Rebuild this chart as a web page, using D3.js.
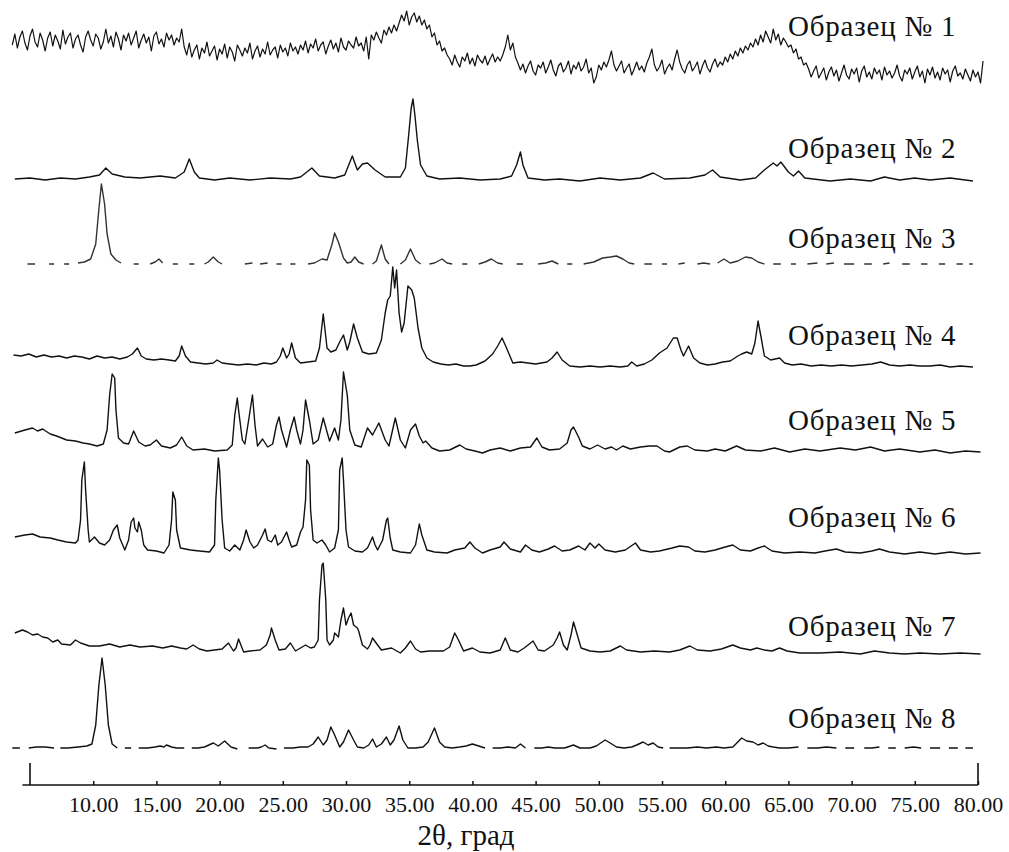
<!DOCTYPE html>
<html>
<head>
<meta charset="utf-8">
<script src="https://cdn.jsdelivr.net/npm/d3@7"></script>
<style>
  body { margin: 0; background: #fff; }
</style>
</head>
<body>
<script>
// sample names, top to bottom
let sampleNames = ["Образец № 1", "Образец № 2", "Образец № 3", "Образец № 4",
                   "Образец № 5", "Образец № 6", "Образец № 7", "Образец № 8"];

let tickValues = [10, 15, 20, 25, 30, 35, 40, 45, 50, 55, 60, 65, 70, 75, 80];
let axisTitle = "2θ, град";

// sample 1 is amorphous: intensity read every 0.2 deg starting at 3.6 deg
let sample1Start = 3.6;
let sample1Step = 0.2;
let sample1 = [
  50,61,47,58,64,52,45,59,66,53,48,62,55,44,57,63,49,60,54,46,65,51,58,62,47,56,60,50,43,58,64,55,49,61,
  57,46,53,66,52,59,48,63,56,45,60,54,62,50,57,64,47,55,61,52,58,44,59,63,51,56,48,62,55,60,50,57,53,
  66,48,40,52,38,45,50,36,47,42,53,39,44,49,35,46,41,51,37,48,43,34,50,45,39,47,42,52,36,44,49,38,46,41,
  53,40,45,48,37,50,43,47,39,52,44,48,41,50,
  45,54,42,51,47,56,44,50,53,41,49,55,46,52,43,57,48,45,54,50,47,58,49,
  52,44,58,36,60,55,63,57,52,65,60,68,62,70,64,
  72,80,74,84,70,78,82,73,79,70,
  75,66,70,58,62,50,54,44,47,40,
  36,30,40,33,28,38,34,42,31,37,29,40,35,32,39,30,36,41,33,38,34,
  40,48,60,45,52,38,32,
  25,31,22,29,34,24,20,30,27,33,22,28,35,25,19,29,32,23,27,34,21,30,26,33,24,28,36,22,27,12,
  18,30,25,33,28,35,44,30,24,29,34,22,27,31,20,26,33,25,29,23,32,38,46,30,24,28,35,21,27,31,
  25,36,45,33,26,22,30,34,24,28,33,21,29,35,27,23,31,36,28,33,
  30,38,33,41,36,44,39,47,42,49,45,52,48,
  56,50,60,53,64,58,52,66,55,61,50,57,53,48,
  50,42,46,36,38,30,32,
  26,18,24,29,17,22,27,15,23,28,19,25,14,22,30,20,16,26,21,27,13,24,29,18,23,16,27,21,25,15,
  28,20,24,17,22,30,19,14,25,21,27,16,23,29,18,24,12,26,20,28,17,23,15,27,21,25,13,24,29,19,
  22,16,26,20,14,25,18,23,12,34
];

// samples 2-8: [2theta, intensity], null = gap in the trace
let sample2 = [
  [3.8,2],[5.0,3],[6.2,1],[7.4,3],[8.6,2],[9.7,4],[10.5,6],[11.0,13],[11.5,7],[12.5,4],[13.7,3],[15.3,5],
  [16.5,3],[17.2,9],[17.6,22],[18.0,9],[18.4,3],[19.6,1],[20.8,3],[22.4,1],[24.0,3],[25.6,2],[26.4,4],
  [27.3,13],[27.9,5],[29.1,3],[29.9,6],[30.5,25],[30.9,11],[31.3,17],[31.7,18],[32.3,11],[33.1,4],[34.3,4],
  [34.7,13],[34.95,45],[35.15,72],[35.3,82],[35.45,66],[35.65,40],[35.9,16],[36.4,5],[37.4,2],[39.0,3],[40.6,1],[42.2,2],
  [43.1,5],[43.5,16],[43.8,29],[44.0,16],[44.4,3],[45.7,1],[46.9,2],[48.5,0],[50.1,3],[51.7,1],[53.3,3],
  [54.3,8],[55.2,2],[57.2,3],[58.4,6],[59.0,11],[59.6,4],[61.2,1],[62.4,3],[63.1,11],[63.8,18],[64.1,15],
  [64.4,19],[65.0,9],[65.4,5],[65.8,10],[66.3,3],[68.3,0],[69.9,2],[71.5,0],[72.6,4],[73.8,1],[75.0,3],
  [76.2,1],[77.8,3],[79.6,0]
];

let sample3 = [
  [4.8,0],[5.4,0],null,[6.5,0],[6.9,0],null,[7.7,0],[8.1,0],null,[8.8,1],[9.3,2],[9.8,5],[10.2,20],
  [10.45,55],[10.65,80],[10.9,60],[11.1,30],[11.4,10],[11.8,4],[12.2,1],null,[13.2,0],[13.6,0],null,
  [14.5,0],[14.9,2],[15.2,5],[15.5,1],null,[16.3,0],[16.7,0],null,[17.6,0],[18.0,0],null,
  [18.8,0],[19.1,2],[19.5,7],[19.9,2],[20.2,0],null,[22.0,0],[22.6,1],null,[23.2,0],[23.8,1],null,
  [24.5,0],[24.9,0],null,[25.6,0],[26.0,0],null,[27.0,0],[27.5,1],[28.1,5],[28.5,4],[28.9,20],[29.1,31],
  [29.4,22],[29.8,6],[30.1,1],[30.4,2],[30.7,7],[31.0,2],[31.4,0],null,[32.1,0],[32.4,3],[32.8,19],[33.1,5],
  [33.4,0],null,[34.3,0],[34.7,4],[35.1,15],[35.5,4],[35.9,0],null,[36.6,0],[37.0,1],[37.6,5],[38.0,1],
  [38.4,0],null,[39.2,0],[39.6,0],null,[40.5,0],[41.0,2],[41.5,5],[42.0,1],[42.4,0],null,[43.5,0],[44.0,0],null,
  [45.2,0],[45.8,1],[46.3,3],[46.8,0],null,[47.5,0],[47.9,0],null,[48.8,0],[49.6,2],[50.3,6],[50.9,7],
  [51.4,8],[51.9,5],[52.4,1],[52.8,0],null,[53.6,0],[54.2,0],null,[55.0,0],[55.4,0],null,[56.3,0],[56.8,1],null,
  [57.8,0],[58.3,1],[58.8,0],null,[59.4,1],[59.9,5],[60.4,1],[61.0,3],[61.6,7],[62.1,6],[62.6,2],[63.1,0],null,
  [63.8,0],[64.4,0],null,[65.2,0],[65.6,0],null,[66.5,0],[67.3,1],null,[68.0,0],[68.6,1],null,[69.4,0],[70.2,0],null,
  [71.0,0],[71.6,0],null,[72.5,0],[73.0,1],null,[74.0,0],[74.6,0],null,[75.5,0],[76.0,0],null,[76.9,0],[77.4,0],null,
  [78.3,0],[78.8,0],null,[79.3,0],[79.6,0]
];

let sample4 = [
  [3.7,13],[4.3,12],[4.9,14],[5.5,11],[6.1,13],[6.7,11],[7.3,12],[7.9,10],[8.5,12],[9.1,11],[9.7,9],[10.3,12],
  [10.9,10],[11.5,11],[12.1,9],[12.7,11],[13.1,14],[13.5,20],[13.8,12],[14.2,9],[14.8,8],[15.4,9],[16.0,8],
  [16.5,7],[16.8,12],[17.0,22],[17.3,12],[17.7,6],[18.3,5],[18.9,4],[19.5,5],[19.8,8],[20.2,5],[20.8,4],
  [21.5,3],[22.2,4],[22.9,3],[23.5,5],[24.1,4],[24.5,6],[24.8,12],[25.0,20],[25.3,10],[25.5,14],[25.7,25],
  [26.0,10],[26.4,5],[27.0,6],[27.6,7],[27.9,20],[28.2,54],[28.5,20],[28.8,16],[29.2,18],[29.5,26],[29.8,33],
  [30.1,18],[30.3,26],[30.6,44],[30.9,30],[31.3,16],[31.8,14],[32.4,15],[32.8,28],[33.1,55],[33.3,68],
  [33.5,72],[33.7,101],[33.85,80],[34.0,98],[34.2,55],[34.4,36],[34.6,45],[34.9,82],[35.2,78],[35.4,70],
  [35.7,40],[36.0,20],[36.4,10],[36.9,6],[37.5,4],[38.1,3],[38.7,4],[39.3,2],[39.8,2],[40.3,3],[41.0,7],
  [41.6,14],[42.0,22],[42.35,30],[42.7,20],[43.2,5],[43.8,6],[44.4,5],[45.0,4],[45.9,6],[46.3,10],[46.7,16],
  [47.1,8],[47.7,2],[48.5,1],[49.3,2],[50.1,1],[50.9,2],[51.7,1],[52.3,2],[52.6,6],[53.0,2],[53.6,4],[54.2,8],
  [54.8,15],[55.4,20],[55.9,30],[56.2,30],[56.5,18],[56.7,12],[57.1,22],[57.5,10],[58.0,5],[58.6,3],[59.2,4],
  [59.8,6],[60.4,7],[61.0,12],[61.3,14],[61.7,16],[62.1,14],[62.35,25],[62.6,47],[62.85,30],[63.1,12],
  [63.6,8],[64.3,10],[64.7,5],[65.3,3],[66.0,4],[66.8,2],[67.6,3],[68.4,2],[69.2,3],[70.0,2],[70.8,3],
  [71.6,4],[72.3,6],[73.0,3],[73.8,2],[74.6,3],[75.4,2],[76.2,2],[77.0,3],[77.8,1],[78.6,2],[79.6,1]
];

let sample5 = [
  [3.8,22],[4.6,25],[5.2,27],[5.6,24],[6.0,26],[6.6,21],[7.1,19],[7.5,17],[7.9,15],[8.6,14],[9.2,12],[9.7,11],
  [10.3,9],[10.8,11],[11.1,25],[11.3,60],[11.5,81],[11.7,77],[11.8,45],[12.0,17],[12.4,12],[12.8,11],[13.2,24],
  [13.6,13],[14.1,9],[14.5,10],[15.0,15],[15.4,9],[16.1,7],[16.6,10],[17.0,18],[17.4,9],[17.9,5],[18.8,6],
  [19.6,4],[20.6,5],[21.0,10],[21.2,40],[21.4,57],[21.5,45],[21.8,15],[22.0,11],[22.3,35],[22.6,60],[22.8,30],
  [23.0,9],[23.4,16],[23.8,8],[24.2,11],[24.5,30],[24.7,38],[24.9,25],[25.3,8],[25.6,25],[25.9,38],[26.1,25],
  [26.4,11],[26.6,25],[26.8,55],[27.1,35],[27.4,11],[27.8,15],[28.2,37],[28.5,23],[28.7,14],[29.1,27],
  [29.4,15],[29.6,35],[29.8,83],[30.1,60],[30.3,25],[30.7,10],[31.2,8],[31.7,27],[32.1,20],[32.6,32],
  [33.1,15],[33.4,9],[33.9,37],[34.3,15],[34.7,7],[35.1,25],[35.5,31],[35.8,19],[36.1,12],[36.3,14],[36.8,7],
  [37.4,4],[38.2,5],[39.0,10],[39.5,6],[40.2,4],[40.8,2],[41.4,5],[42.2,7],[43.0,4],[43.8,7],[44.6,8],
  [45.1,17],[45.5,8],[46.1,5],[46.9,6],[47.5,12],[47.8,25],[48.0,28],[48.4,18],[48.7,9],[49.3,6],[49.9,10],
  [50.5,6],[51.0,8],[51.4,5],[51.9,9],[52.5,6],[53.3,8],[54.0,9],[54.6,9],[55.2,4],[55.6,3],[56.4,8],[57.0,9],
  [57.6,5],[58.6,4],[59.2,6],[60.0,4],[60.9,9],[61.6,5],[62.8,4],[63.9,7],[65.1,3],[66.3,6],[67.5,4],[69.1,7],
  [70.3,5],[71.5,8],[72.6,4],[73.8,6],[75.4,3],[76.6,5],[77.8,2],[79.0,4],[80.2,3]
];

let sample6 = [
  [3.8,18],[4.6,20],[5.2,21],[5.8,18],[6.6,17],[7.2,15],[7.9,13],[8.6,12],[8.8,15],[9.0,35],[9.1,75],[9.3,93],
  [9.4,65],[9.6,25],[9.7,13],[10.1,18],[10.5,12],[10.9,10],[11.3,15],[11.6,25],[11.9,30],[12.1,17],[12.5,5],
  [12.8,15],[13.0,33],[13.2,37],[13.3,27],[13.5,23],[13.6,33],[13.8,25],[14.0,10],[14.3,5],[15.0,4],[15.6,2],
  [16.0,10],[16.2,35],[16.3,63],[16.5,55],[16.6,25],[16.9,7],[17.7,5],[18.4,4],[19.2,3],[19.6,10],[19.7,55],
  [19.9,97],[20.0,85],[20.2,35],[20.4,7],[20.8,4],[21.2,10],[21.6,5],[21.9,15],[22.1,25],[22.4,13],[22.7,7],
  [23.0,10],[23.4,20],[23.6,26],[23.8,15],[24.1,13],[24.4,20],[24.6,10],[24.9,13],[25.3,23],[25.5,15],
  [25.7,8],[26.1,10],[26.4,23],[26.6,28],[26.8,55],[26.9,95],[27.1,90],[27.2,45],[27.4,15],[27.7,12],
  [28.1,15],[28.4,10],[28.7,3],[29.1,7],[29.4,25],[29.5,85],[29.7,97],[29.8,75],[30.0,25],[30.2,8],[30.7,4],
  [31.3,3],[31.7,7],[32.1,18],[32.3,10],[32.5,5],[32.9,15],[33.2,35],[33.3,37],[33.5,17],[33.7,5],[34.3,3],
  [35.1,2],[35.5,10],[35.8,31],[36.0,20],[36.4,5],[37.0,3],[38.0,2],[38.6,5],[39.4,7],[39.8,13],[40.2,7],
  [40.8,2],[41.4,5],[42.2,8],[42.5,13],[43.0,6],[43.8,3],[44.2,10],[44.7,5],[45.3,3],[46.0,6],[46.5,9],
  [47.1,4],[47.7,5],[48.4,9],[48.9,5],[49.3,12],[49.7,7],[50.0,11],[50.5,5],[51.3,3],[52.1,5],[52.9,12],
  [53.3,5],[54.1,3],[54.8,4],[55.8,7],[56.4,9],[57.1,8],[57.6,4],[58.4,3],[59.2,5],[60.0,8],[60.6,10],[61.2,5],
  [62.0,4],[62.6,7],[63.1,9],[63.7,4],[64.7,2],[65.9,3],[67.1,2],[67.9,4],[68.8,6],[69.5,3],[70.7,2],[71.6,4],
  [72.2,6],[73.0,3],[74.2,1],[75.4,3],[76.6,1],[77.8,3],[79.0,1],[80.2,2]
];

let sample7 = [
  [3.8,22],[4.4,25],[4.8,23],[5.2,20],[5.6,21],[6.0,18],[6.4,17],[6.8,13],[7.2,15],[7.5,11],[8.2,10],[8.6,15],
  [9.0,12],[9.7,9],[10.5,9],[11.3,11],[12.1,8],[12.9,10],[13.7,8],[14.7,9],[15.5,7],[16.2,9],[16.9,7],[17.4,6],
  [17.9,10],[18.4,6],[19.0,4],[19.6,5],[20.2,6],[20.7,12],[21.1,4],[21.3,7],[21.5,16],[21.9,3],[22.4,4],[23.2,5],
  [23.7,10],[24.0,20],[24.1,27],[24.4,15],[24.7,5],[25.2,6],[25.6,12],[26.0,4],[26.4,7],[26.8,10],[27.2,7],
  [27.5,8],[27.8,15],[27.9,55],[28.1,90],[28.2,92],[28.4,55],[28.5,15],[28.7,10],[29.0,15],[29.1,22],[29.4,18],
  [29.6,35],[29.8,47],[30.0,30],[30.2,37],[30.4,42],[30.6,30],[30.9,27],[31.0,24],[31.3,10],[31.7,6],[31.9,10],
  [32.1,17],[32.5,10],[32.8,5],[33.2,6],[33.6,7],[34.3,2],[34.7,7],[35.1,14],[35.5,6],[35.9,3],[36.6,4],[37.7,4],
  [38.2,8],[38.6,22],[38.9,15],[39.3,4],[40.0,7],[40.6,3],[41.4,2],[42.2,5],[42.6,17],[43.0,5],[43.6,3],[44.1,7],
  [44.8,14],[45.2,5],[45.7,4],[46.4,10],[46.7,17],[46.9,23],[47.2,10],[47.5,5],[47.8,20],[48.0,33],[48.3,20],
  [48.6,7],[49.3,4],[50.1,3],[50.9,4],[51.7,9],[52.2,5],[53.3,3],[54.4,4],[55.6,3],[56.4,5],[57.2,9],[57.8,5],
  [58.8,4],[59.7,6],[60.6,10],[61.2,7],[62.0,5],[62.5,7],[63.1,5],[63.7,4],[64.3,7],[64.9,4],[65.9,2],[67.5,2],
  [69.1,3],[70.7,1],[71.8,4],[73.0,2],[74.2,1],[75.4,2],[77.0,1],[78.6,2],[80.2,1]
];

let sample8 = [
  [3.6,2],[4.2,2],null,[4.9,2],[5.5,3],[6.2,3],[6.9,2],null,[7.4,2],[8.0,2],[8.8,3],[9.5,4],[9.9,6],[10.2,25],
  [10.45,65],[10.7,92],[10.95,65],[11.2,25],[11.5,6],[11.9,2],null,[12.5,2],[13.0,2],null,[13.6,2],
  [14.3,2],[14.9,3],[15.3,4],[15.6,3],[15.8,5],[16.2,3],[16.6,2],[17.2,2],null,[17.8,2],[18.3,2],[18.8,3],
  [19.5,7],[19.9,4],[20.4,9],[20.9,3],[21.4,1],null,[22.3,2],[23.0,2],[23.3,3],[23.6,5],[23.9,2],[24.5,1],null,
  [25.1,2],[25.8,2],[26.4,3],[27.0,3],[27.4,6],[27.8,13],[28.2,5],[28.5,10],[28.8,23],[29.1,15],[29.5,3],
  [29.8,8],[30.2,20],[30.6,10],[30.9,3],[31.4,2],[31.8,5],[32.1,11],[32.4,3],[32.8,6],[33.2,13],[33.5,5],
  [33.8,10],[34.2,24],[34.5,10],[34.9,2],[35.5,2],[36.1,3],[36.5,8],[37.0,22],[37.4,8],[37.8,3],[38.4,2],
  [39.0,3],[39.5,4],[40.0,6],[40.5,4],[41.0,2],null,[41.6,2],[42.2,2],[42.8,3],[43.4,2],[43.8,6],[44.2,2],null,
  [44.9,2],[45.5,2],[46.0,3],[46.5,2],[47.3,2],[48.0,5],[48.5,2],[49.3,2],[49.8,4],[50.5,10],[50.9,7],[51.4,3],
  [52.0,2],[52.6,3],[53.0,5],[53.5,8],[53.9,5],[54.3,7],[54.7,3],[55.1,2],null,[55.6,2],[56.3,2],[57.0,2],
  [57.8,3],[58.5,2],[59.3,3],[59.9,2],[60.6,3],[61.0,8],[61.3,12],[61.7,9],[62.2,8],[62.6,5],[63.0,7],[63.4,4],
  [63.8,3],[64.3,2],[65.0,2],[65.8,3],null,[66.5,2],[67.3,2],[68.0,3],[68.8,2],null,[69.5,2],[70.2,2],null,
  [71.0,2],[71.6,2],[72.2,3],null,[72.9,2],[73.5,2],null,[74.2,2],[74.9,3],[75.5,2],null,[76.2,2],[77.0,2],null,
  [77.7,2],[78.4,2],null,[79.0,2],[79.6,2]
];

// layout
let width = 1009;
let height = 852;
let serif = "'Liberation Serif', 'Times New Roman', 'DejaVu Serif', serif";
let baselines = [95, 181, 264, 368, 455, 555, 655, 750];   // zero line of each trace
let labelY = [36, 158, 248, 345, 430, 527, 636, 728];
let labelX = 788;
let axisY = 785;

let traces = [
  sample1.map((v, i) => [sample1Start + i * sample1Step, v]),
  sample2, sample3, sample4, sample5, sample6, sample7, sample8
];

let svg = d3.select("body").append("svg")
    .attr("width", width)
    .attr("height", height)
    .attr("font-family", serif);

svg.append("rect").attr("width", width).attr("height", height).attr("fill", "#fff");

let x = d3.scaleLinear().domain([5, 80]).range([30, 978]);
let y = d3.scaleLinear().domain([0, 100]).range([0, -100]);

let line = d3.line()
    .defined(d => d !== null)
    .x(d => x(d[0]))
    .y(d => y(d[1]));

// the traces
svg.append("g")
    .selectAll("path")
    .data(traces)
    .enter().append("path")
    .attr("transform", (d, i) => `translate(0,${baselines[i]})`)
    .attr("fill", "none")
    .attr("stroke", (d, i) => i == 2 ? "#333" : "#111")
    .attr("stroke-width", (d, i) => i == 0 ? 1.2 : 1.4)
    .attr("stroke-linejoin", "round")
    .attr("d", line);

// sample labels
svg.append("g")
    .selectAll("text")
    .data(sampleNames)
    .enter().append("text")
    .attr("x", labelX)
    .attr("y", (d, i) => labelY[i])
    .attr("fill", "#111")
    .style("font-family", serif)
    .style("font-size", "29px")
    .style("letter-spacing", "0.8px")
    .text(d => d);

// x axis
let axis = d3.axisBottom(x)
    .tickValues(tickValues)
    .tickFormat(d3.format(".2f"))
    .tickSizeInner(-4)
    .tickSizeOuter(0)
    .tickPadding(11);

let gx = svg.append("g")
    .attr("transform", `translate(0,${axisY})`)
    .call(axis);

gx.select(".domain").remove();
gx.selectAll(".tick line").attr("stroke", "#111").attr("stroke-width", 1.5);
gx.selectAll(".tick text")
    .attr("fill", "#111")
    .style("font-family", serif)
    .style("font-size", "22px");

gx.append("line")
    .attr("x1", x(4.4)).attr("x2", x(80))
    .attr("stroke", "#111").attr("stroke-width", 1.6);

// tall end marks at both limits of the scan
gx.selectAll(".endmark")
    .data(x.domain())
    .enter().append("line")
    .attr("x1", d => x(d)).attr("x2", d => x(d))
    .attr("y1", 0).attr("y2", -22)
    .attr("stroke", "#111").attr("stroke-width", 1.6);

svg.append("text")
    .attr("x", x(39.5))
    .attr("y", 845)
    .attr("text-anchor", "middle")
    .attr("fill", "#111")
    .style("font-family", serif)
    .style("font-size", "29px")
    .text(axisTitle);
</script>
</body>
</html>
